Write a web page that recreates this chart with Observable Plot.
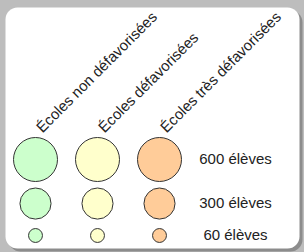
<!DOCTYPE html>
<html>
<head>
<meta charset="utf-8">
<script src="https://cdn.jsdelivr.net/npm/d3@7"></script>
<script src="https://cdn.jsdelivr.net/npm/@observablehq/plot@0.6"></script>
<style>
  html, body { margin: 0; padding: 0; background: #bdbdbd; }
  #chart svg { display: block; }
</style>
</head>
<body>
<div id="chart"></div>
<script>
const categories = ["Écoles non défavorisées", "Écoles défavorisées", "Écoles très défavorisées"];
const sizes = [600, 300, 60];
const sizeLabels = ["600 élèves", "300 élèves", "60 élèves"];

const circles = categories.flatMap(c => sizes.map(s => ({category: c, size: s})));
const labelRows = sizes.map((s, i) => ({size: s, label: sizeLabels[i]}));

const chart = Plot.plot({
  width: 304,
  height: 252,
  marginTop: 7,
  marginLeft: 5,
  marginRight: 5,
  marginBottom: 4,
  style: {background: "#bdbdbd", fontFamily: "'Liberation Sans', Arial, sans-serif"},
  x: {type: "point", domain: categories, range: [35, 159], padding: 0, axis: null},
  y: {type: "pow", exponent: 1.1, domain: [600, 60], range: [159, 235], axis: null},
  r: {type: "sqrt", domain: [0, 600], range: [0, 22]},
  color: {domain: categories, range: ["#ccffcc", "#ffffcc", "#ffcc99"]},
  marks: [
    Plot.frame({fill: "#8c8c8c", rx: 12, dx: 3, dy: 3, stroke: null}),
    Plot.frame({fill: "white", rx: 12, stroke: null}),
    Plot.dot(circles, {x: "category", y: "size", r: "size", fill: "category", stroke: "#333", strokeWidth: 1}),
    Plot.text(categories, {
      x: d => d, y: () => 600, text: d => d,
      rotate: -45, textAnchor: "start", lineAnchor: "bottom",
      dx: 7, dy: -26, fontSize: 15, fill: "#222"
    }),
    Plot.text(labelRows, {
      x: () => categories[2], y: "size", text: "label",
      dx: 76, fontSize: 15, fill: "#222", textAnchor: "middle"
    })
  ]
});
document.getElementById("chart").appendChild(chart);
</script>
</body>
</html>
